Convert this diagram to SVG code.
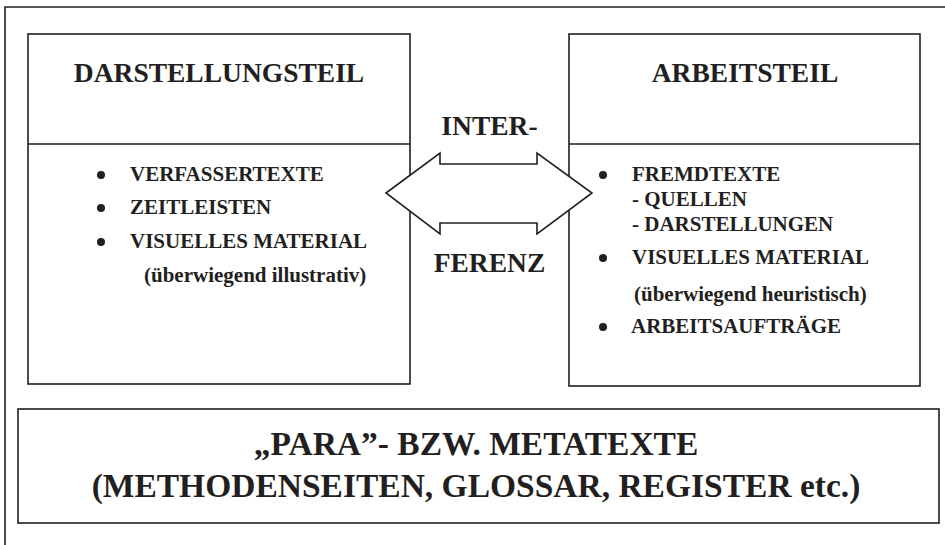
<svg xmlns="http://www.w3.org/2000/svg" width="945" height="545" viewBox="0 0 945 545">
<style>
.ln{fill:none;stroke:#231f20;stroke-width:1.6}
.bx{fill:#fff;stroke:#231f20;stroke-width:1.6}
text{font-family:"Liberation Serif","Times New Roman",serif;font-weight:bold;fill:#231f20}
.h{font-size:27.5px;text-anchor:middle}
.b{font-size:21px}
.m{font-size:33.5px;text-anchor:middle}
.dot{fill:#231f20}
</style>
<rect width="945" height="545" fill="#fff"/>
<path class="ln" d="M5,545 V7 H946"/>
<g id="darstellungsteil">
<rect class="bx" x="28" y="34" width="382" height="350"/>
<line class="ln" x1="28" y1="144" x2="410" y2="144"/>
<text class="h" x="219" y="82">DARSTELLUNGSTEIL</text>
<circle class="dot" cx="101" cy="175" r="4"/>
<circle class="dot" cx="101" cy="208" r="4"/>
<circle class="dot" cx="101" cy="242" r="4"/>
<text class="b" x="130" y="181">VERFASSERTEXTE</text>
<text class="b" x="130" y="214">ZEITLEISTEN</text>
<text class="b" x="130" y="248">VISUELLES MATERIAL</text>
<text class="b" x="144" y="282">(überwiegend illustrativ)</text>
</g>
<g id="arbeitsteil">
<rect class="bx" x="569" y="34" width="351" height="352"/>
<line class="ln" x1="569" y1="144" x2="920" y2="144"/>
<text class="h" x="745" y="82">ARBEITSTEIL</text>
<circle class="dot" cx="603" cy="175" r="4"/>
<circle class="dot" cx="603" cy="258" r="4"/>
<circle class="dot" cx="603" cy="327" r="4"/>
<text class="b" x="632" y="181">FREMDTEXTE</text>
<text class="b" x="632" y="206">- QUELLEN</text>
<text class="b" x="632" y="231">- DARSTELLUNGEN</text>
<text class="b" x="632" y="264">VISUELLES MATERIAL</text>
<text class="b" x="634" y="301">(überwiegend heuristisch)</text>
<text class="b" x="631" y="333">ARBEITSAUFTRÄGE</text>
</g>
<g id="connectors">
<polygon class="bx" points="386,193 440,153 440,164 537,164 537,153 592,193 537,234 537,223 440,223 440,234"/>
</g>
<g id="interferenz">
<text class="h" x="489.5" y="135">INTER-</text>
<text class="h" x="489.5" y="272">FERENZ</text>
</g>
<g id="metatexte">
<rect class="bx" x="18" y="409" width="921" height="114"/>
<text class="m" x="476" y="455">„PARA”- BZW. METATEXTE</text>
<text class="m" x="476" y="497">(METHODENSEITEN, GLOSSAR, REGISTER etc.)</text>
</g>
</svg>
